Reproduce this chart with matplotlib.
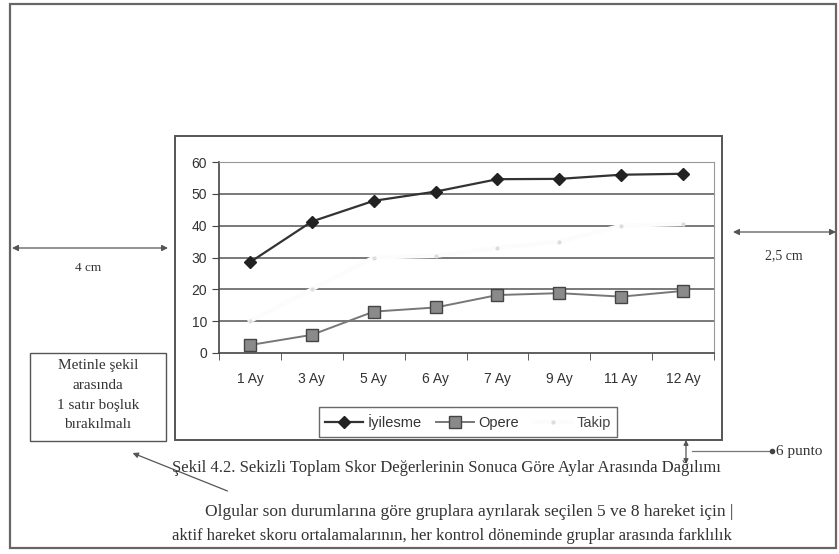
import matplotlib
matplotlib.use("Agg")
import matplotlib.pyplot as plt
from matplotlib.patches import Rectangle, FancyArrowPatch
from matplotlib.lines import Line2D

# --- veriler ---
aylar = ["1 Ay", "3 Ay", "5 Ay", "6 Ay", "7 Ay", "9 Ay", "11 Ay", "12 Ay"]
iyilesme = [28.5, 41.3, 47.8, 50.7, 54.6, 54.7, 56.0, 56.3]
opere = [2.5, 5.7, 13.0, 14.3, 18.2, 18.8, 17.7, 19.5]
takip = [10.0, 20.0, 30.0, 30.5, 33.0, 35.0, 40.0, 40.5]
y_ticks = [0, 10, 20, 30, 40, 50, 60]

caption = "Şekil 4.2. Sekizli Toplam Skor Değerlerinin Sonuca Göre Aylar Arasında Dağılımı"
satir1 = "Olgular son durumlarına göre gruplara ayrılarak seçilen 5 ve 8 hareket için |"
satir2 = "aktif hareket skoru ortalamalarının, her kontrol döneminde gruplar arasında farklılık"
not_satirlari = ["Metinle şekil", "arasında", "1 satır boşluk", "bırakılmalı"]

W, H = 839, 554
fig = plt.figure(figsize=(W / 100, H / 100), dpi=100)
fig.patch.set_facecolor("white")


def fx(x):
    return x / W


def fy(y):
    return 1 - y / H


def kutu(x0, y0, x1, y1, lw=1.2, color="#555555"):
    fig.add_artist(Rectangle((fx(x0), fy(y1)), fx(x1) - fx(x0), fy(y0) - fy(y1),
                             transform=fig.transFigure, fill=False,
                             edgecolor=color, linewidth=lw))


def ok(x0, y0, x1, y1, style="<|-|>", ms=9):
    fig.add_artist(FancyArrowPatch((fx(x0), fy(y0)), (fx(x1), fy(y1)),
                                   transform=fig.transFigure, arrowstyle=style,
                                   mutation_scale=ms, color="#555555", lw=0.9,
                                   shrinkA=0, shrinkB=0))


serif = "Liberation Serif"
sans = "Liberation Sans"
koyu = "#333333"

# sayfa çerçevesi ve grafik kutusu
kutu(10, 4, 836, 548, lw=1.6, color="#666666")
kutu(175, 136, 722, 440, lw=1.4)

# --- grafik ---
ax = fig.add_axes([fx(219), fy(353), fx(714) - fx(219), fy(162) - fy(353)])
x = list(range(len(aylar)))
ax.set_xlim(-0.5, len(aylar) - 0.5)
ax.set_ylim(0, 60)
for v in y_ticks[1:]:
    ax.axhline(v, color="#555555", lw=1.1, zorder=1)
# Takip serisi taramada neredeyse görünmüyor
ax.plot(x, takip, color="#fcfcfc", lw=3, marker="o", ms=2, mfc="#dddddd",
        mec="#dddddd", zorder=2, label="Takip")
ax.plot(x, opere, color="#777777", lw=1.4, marker="s", ms=8, mfc="#8a8a8a",
        mec="#444444", zorder=3, label="Opere")
ax.plot(x, iyilesme, color="#333333", lw=1.6, marker="D", ms=6, mfc="#222222",
        mec="#222222", zorder=4, label="İyilesme")

ax.set_yticks(y_ticks)
ax.set_xticks(x)
ax.set_xticklabels(aylar)
ax.set_xticks([i - 0.5 for i in range(len(aylar) + 1)], minor=True)
ax.tick_params(axis="x", which="major", length=0, pad=14, labelsize=10, labelcolor=koyu)
ax.tick_params(axis="x", which="minor", length=5, color="#444444")
ax.tick_params(axis="y", length=5, color="#444444", labelsize=10, labelcolor=koyu)
for lab in ax.get_xticklabels() + ax.get_yticklabels():
    lab.set_fontfamily(sans)
for s in ["top", "right"]:
    ax.spines[s].set_color("#999999")
for s in ["left", "bottom"]:
    ax.spines[s].set_color("#444444")
    ax.spines[s].set_linewidth(1.2)

h, l = ax.get_legend_handles_labels()
leg = fig.legend(h[::-1], l[::-1], loc="center", bbox_to_anchor=(fx(468), fy(422)),
                 ncol=3, frameon=True, fancybox=False, edgecolor="#444444",
                 handlelength=2.6, handletextpad=0.3, columnspacing=1.0,
                 borderpad=0.45, prop={"family": sans, "size": 10.5})
leg.get_frame().set_linewidth(1.0)
for t in leg.get_texts():
    t.set_color(koyu)
leg.get_texts()[2].set_color("#444444")

# --- sayfa işaretleri ---
ok(12, 248, 168, 248)
fig.text(fx(88), fy(268), "4 cm", family=serif, fontsize=9.5, color=koyu, ha="center", va="center")
ok(733, 232, 836, 232)
fig.text(fx(784), fy(256), "2,5 cm", family=serif, fontsize=10, color=koyu, ha="center", va="center")

kutu(30, 353, 166, 441, lw=1.0)
for i, s in enumerate(not_satirlari):
    fig.text(fx(98), fy(366 + 19.5 * i), s, family=serif, fontsize=11, color=koyu,
             ha="center", va="center")
fig.add_artist(FancyArrowPatch((fx(230), fy(492)), (fx(130), fy(452)),
                               transform=fig.transFigure, arrowstyle="-|>",
                               mutation_scale=8, color="#555555", lw=0.9))

ok(686, 440, 686, 464, ms=7)
fig.add_artist(Line2D([fx(692), fx(772)], [fy(451), fy(451)], transform=fig.transFigure,
                      color="#777777", lw=0.9))
fig.add_artist(Line2D([fx(772)], [fy(451)], transform=fig.transFigure,
                      color="#444444", marker="o", ms=3))
fig.text(fx(776), fy(452), "6 punto", family=serif, fontsize=11, color=koyu, ha="left", va="center")

fig.text(fx(172), fy(468), caption, family=serif, fontsize=12, color=koyu, ha="left", va="center")
fig.text(fx(205), fy(512), satir1, family=serif, fontsize=12.5, color=koyu, ha="left", va="center")
fig.text(fx(172), fy(536), satir2, family=serif, fontsize=12, color=koyu, ha="left", va="center")

fig.savefig("out.png", dpi=100)
